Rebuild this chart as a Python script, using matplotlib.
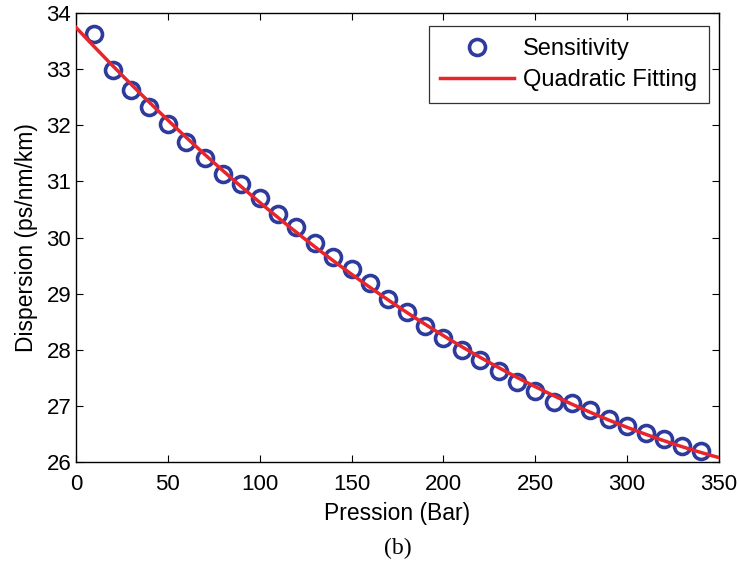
import numpy as np
import matplotlib
matplotlib.use("Agg")
import matplotlib.pyplot as plt

pression = [10, 20, 30, 40, 50, 60, 70, 80, 90, 100, 110, 120, 130, 140, 150, 160, 170,
            180, 190, 200, 210, 220, 230, 240, 250, 260, 270, 280, 290, 300, 310, 320, 330, 340]
dispersion = [33.62, 32.98, 32.63, 32.32, 32.02, 31.70, 31.41, 31.13, 30.96, 30.71, 30.41,
              30.18, 29.91, 29.66, 29.44, 29.19, 28.90, 28.68, 28.43, 28.21, 28.00, 27.81,
              27.62, 27.43, 27.27, 27.07, 27.05, 26.92, 26.77, 26.64, 26.52, 26.41, 26.29, 26.19]
xticks = [0, 50, 100, 150, 200, 250, 300, 350]
yticks = [26, 27, 28, 29, 30, 31, 32, 33, 34]

plt.rcParams['font.family'] = ['Liberation Sans', 'DejaVu Sans']

W, H = 739, 565
fig = plt.figure(figsize=(W / 100, H / 100), dpi=100)
ax = fig.add_axes([76 / W, 1 - 462 / H, (719 - 76) / W, (462 - 13) / H])

coef = np.polyfit(pression, dispersion, 2)
xf = np.linspace(0, 350, 200)
yf = np.polyval(coef, xf)

ax.plot(pression, dispersion, 'o', markerfacecolor='none', markeredgecolor='#2E3A9C',
        markersize=11.5, markeredgewidth=2.6, label='Sensitivity', zorder=2)
ax.plot(xf, yf, '-', color='#E8252B', lw=2.5, label='Quadratic Fitting', zorder=3)

ax.set_xlim(0, 350)
ax.set_ylim(26, 34)
ax.set_xticks(xticks)
ax.set_yticks(yticks)
ax.tick_params(direction='in', top=True, right=True, labelsize=16, length=5, width=0.8)
ax.tick_params(axis='x', pad=9)
ax.tick_params(axis='y', pad=3.5)
for s in ax.spines.values():
    s.set_linewidth(1.0)
ax.set_xlabel('Pression (Bar)', fontsize=16.5, labelpad=5)
ax.set_ylabel('Dispersion (ps/nm/km)', fontsize=16.5, labelpad=6)

leg = ax.legend(loc='upper right', bbox_to_anchor=(709 / W, 1 - 26 / H),
                bbox_transform=fig.transFigure, borderaxespad=0,
                fontsize=17, frameon=True, fancybox=False,
                edgecolor='black', handlelength=3.1, numpoints=1,
                labelspacing=0.4, borderpad=0.5, handletextpad=0.4)
leg.get_frame().set_linewidth(0.9)

fig.text(0.538, 1 - 548 / H, '(b)', fontsize=17, family='Liberation Serif',
         ha='center', va='center')

fig.savefig('out.png', dpi=100)
